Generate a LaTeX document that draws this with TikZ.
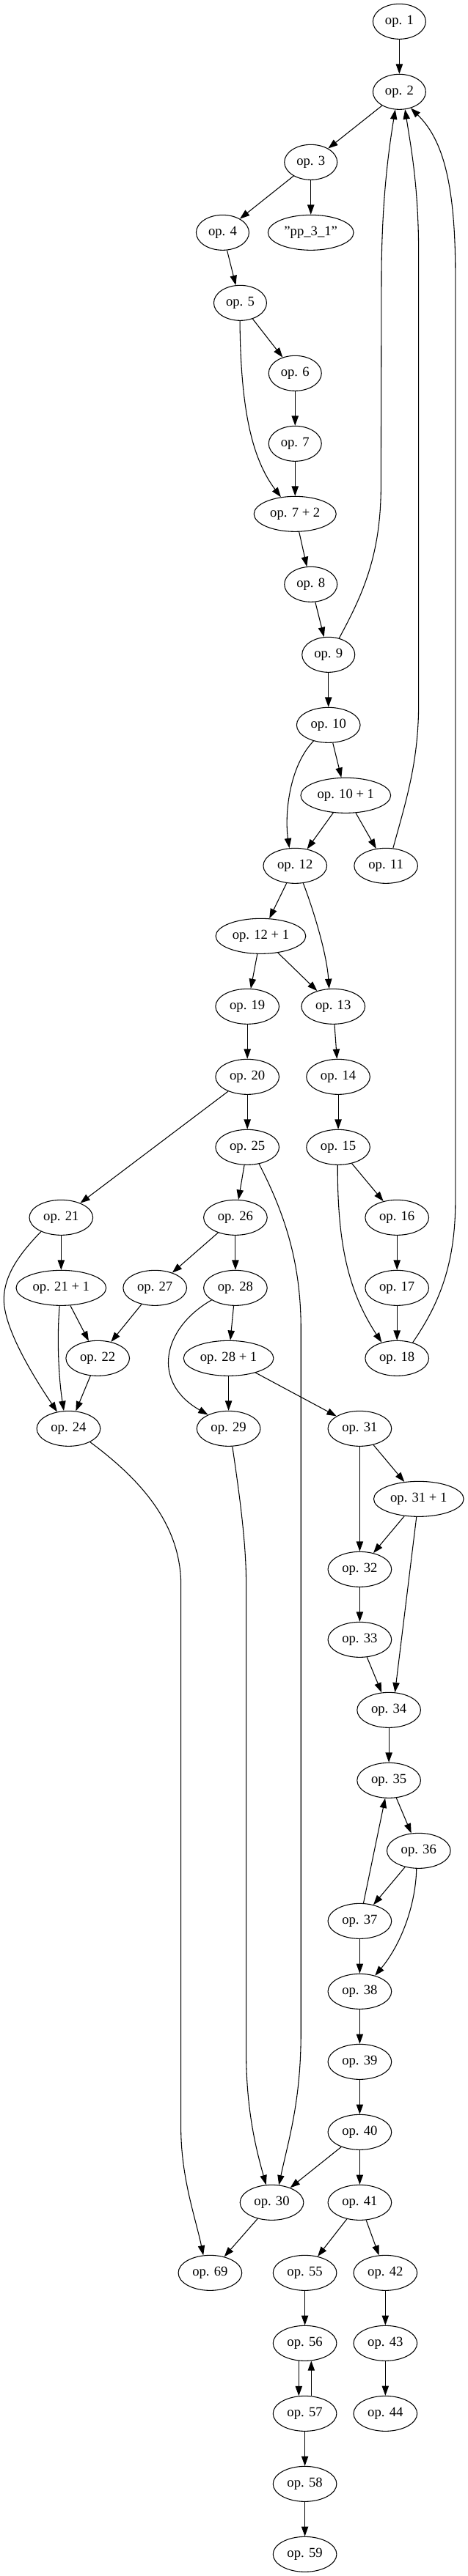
\documentclass[tikz,border=0pt]{standalone}
\usepackage{fontspec}
\setmainfont{Liberation Serif}
\usetikzlibrary{arrows.meta,shapes.geometric}
\begin{document}
\begin{tikzpicture}[x=1pt,y=1pt,
  op/.style={draw, ellipse, line width=0.8pt, inner sep=0pt, minimum height=36pt, minimum width=54pt, font=\fontsize{14pt}{16pt}\selectfont},
  opm/.style={op, minimum width=65pt},
  opw/.style={op, minimum width=92pt},
  opx/.style={op, minimum width=84pt},
  opp/.style={op, minimum width=87.5pt},
  edge/.style={draw, line width=0.8pt, -{Triangle[length=10pt,width=7pt]}}]
\useasboundingbox (0,0) rectangle (477.75,-2636.25);
% nodes
\node[op]  (op1)   at (408.3,-22)   {op. 1};
\node[op]  (op2)   at (408.3,-94)   {op. 2};
\node[op]  (op3)   at (317.8,-166)  {op. 3};
\node[op]  (op4)   at (227.6,-238)  {op. 4};
\node[opp] (pp)    at (317.8,-238)  {"pp\_3\_1"};
\node[op]  (op5)   at (245.6,-310)  {op. 5};
\node[op]  (op6)   at (301.7,-382)  {op. 6};
\node[op]  (op7)   at (301.7,-454)  {op. 7};
\node[opx] (op72)  at (301.7,-526)  {op. 7 + 2};
\node[op]  (op8)   at (317.8,-598)  {op. 8};
\node[op]  (op9)   at (335.8,-670)  {op. 9};
\node[opm] (op10)  at (335.8,-742)  {op. 10};
\node[opw] (op101) at (353.5,-814)  {op. 10 + 1};
\node[opm] (op12)  at (301.7,-886)  {op. 12};
\node[opm] (op11)  at (394.6,-886)  {op. 11};
\node[opw] (op121) at (266.6,-958)  {op. 12 + 1};
\node[opm] (op19)  at (252.9,-1030) {op. 19};
\node[opm] (op13)  at (340.7,-1030) {op. 13};
\node[opm] (op20)  at (252.9,-1102) {op. 20};
\node[opm] (op14)  at (345.8,-1102) {op. 14};
\node[opm] (op25)  at (252.9,-1174) {op. 25};
\node[opm] (op15)  at (345.8,-1174) {op. 15};
\node[opm] (op21)  at (62.5,-1246)  {op. 21};
\node[opm] (op26)  at (240.7,-1246) {op. 26};
\node[opm] (op16)  at (405.9,-1246) {op. 16};
\node[opw] (op211) at (62.5,-1318)  {op. 21 + 1};
\node[opm] (op27)  at (158.4,-1318) {op. 27};
\node[opm] (op28)  at (240.7,-1318) {op. 28};
\node[opm] (op17)  at (405.9,-1318) {op. 17};
\node[opm] (op22)  at (99.9,-1390)  {op. 22};
\node[opw] (op281) at (233.7,-1390) {op. 28 + 1};
\node[opm] (op18)  at (405.9,-1390) {op. 18};
\node[opm] (op24)  at (70.1,-1462)  {op. 24};
\node[opm] (op29)  at (233.7,-1462) {op. 29};
\node[opm] (op31)  at (367.8,-1462) {op. 31};
\node[opw] (op311) at (428.1,-1534) {op. 31 + 1};
\node[opm] (op32)  at (367.8,-1606) {op. 32};
\node[opm] (op33)  at (367.8,-1678) {op. 33};
\node[opm] (op34)  at (397.6,-1750) {op. 34};
\node[opm] (op35)  at (397.6,-1822) {op. 35};
\node[opm] (op36)  at (428.1,-1894) {op. 36};
\node[opm] (op37)  at (367.8,-1966) {op. 37};
\node[opm] (op38)  at (367.8,-2038) {op. 38};
\node[opm] (op39)  at (367.8,-2110) {op. 39};
\node[opm] (op40)  at (367.8,-2182) {op. 40};
\node[opm] (op30)  at (277.9,-2254) {op. 30};
\node[opm] (op41)  at (367.8,-2254) {op. 41};
\node[opm] (op69)  at (214.8,-2326) {op. 69};
\node[opm] (op55)  at (311.7,-2326) {op. 55};
\node[opm] (op42)  at (394.0,-2326) {op. 42};
\node[opm] (op56)  at (311.7,-2398) {op. 56};
\node[opm] (op43)  at (394.0,-2398) {op. 43};
\node[opm] (op57)  at (311.7,-2470) {op. 57};
\node[opm] (op44)  at (394.0,-2470) {op. 44};
\node[opm] (op58)  at (311.7,-2542) {op. 58};
\node[opm] (op59)  at (311.7,-2614) {op. 59};
% edges
\draw[edge] (op1) -- (op2);
\draw[edge] (op2) -- (op3);
\draw[edge] (op3) -- (op4);
\draw[edge] (op3) -- (pp);
\draw[edge] (op4) -- (op5);
\draw[edge] (op5) -- (op6);
\draw[edge] (op5.269) .. controls (246,-420) and (258,-470) .. (op72.130);
\draw[edge] (op6) -- (op7);
\draw[edge] (op7) -- (op72);
\draw[edge] (op72) -- (op8);
\draw[edge] (op8) -- (op9);
\draw[edge] (op9.57) .. controls (370,-610) and (389,-570) .. (389.5,-500) -- (390,-280) .. controls (390.5,-200) and (398,-150) .. (op2.257);
\draw[edge] (op9) -- (op10);
\draw[edge] (op10) -- (op101);
\draw[edge] (op10.227) .. controls (295,-785) and (291,-835) .. (op12.108);
\draw[edge] (op101) -- (op12);
\draw[edge] (op101) -- (op11);
\draw[edge] (op11.68) .. controls (415,-820) and (428,-780) .. (428,-720) -- (428,-260) .. controls (428,-190) and (420,-150) .. (op2.288);
\draw[edge] (op12) -- (op121);
\draw[edge] (op12.295) .. controls (320,-930) and (334,-975) .. (op13.103);
\draw[edge] (op121) -- (op19);
\draw[edge] (op121) -- (op13);
\draw[edge] (op13) -- (op14);
\draw[edge] (op19) -- (op20);
\draw[edge] (op20) -- (op21);
\draw[edge] (op20) -- (op25);
\draw[edge] (op14) -- (op15);
\draw[edge] (op15) -- (op16);
\draw[edge] (op15.268) .. controls (345,-1270) and (355,-1320) .. (op18.134);
\draw[edge] (op16) -- (op17);
\draw[edge] (op17) -- (op18);
\draw[edge] (op18.45) .. controls (445,-1340) and (465.6,-1300) .. (465.6,-1230) -- (465.6,-280) .. controls (465.6,-180) and (450,-140) .. (op2.305);
\draw[edge] (op25) -- (op26);
\draw[edge] (op25.305) .. controls (290,-1240) and (307.7,-1290) .. (307.7,-1360) -- (307.7,-2080) .. controls (307.7,-2150) and (295,-2190) .. (op30.68);
\draw[edge] (op21) -- (op211);
\draw[edge] (op21.215) .. controls (20,-1283) and (4,-1305) .. (4,-1330) .. controls (4,-1360) and (35,-1410) .. (op24.124);
\draw[edge] (op211) -- (op22);
\draw[edge] (op211.265) .. controls (58,-1370) and (60,-1410) .. (op24.105);
\draw[edge] (op26) -- (op27);
\draw[edge] (op26) -- (op28);
\draw[edge] (op27) -- (op22);
\draw[edge] (op22) -- (op24);
\draw[edge] (op28) -- (op281);
\draw[edge] (op28.207) .. controls (165,-1360) and (155,-1415) .. (op29.146);
\draw[edge] (op281) -- (op29);
\draw[edge] (op281) -- (op31);
\draw[edge] (op24.328) .. controls (145,-1515) and (184,-1560) .. (185,-1620) -- (185,-2180) .. controls (185.5,-2230) and (200,-2270) .. (op69.111);
\draw[edge] (op29.282) .. controls (245,-1530) and (251.7,-1580) .. (251.7,-1620) -- (251.7,-2100) .. controls (251.7,-2160) and (262,-2200) .. (op30.108);
\draw[edge] (op31) -- (op311);
\draw[edge] (op31) -- (op32);
\draw[edge] (op311) -- (op32);
\draw[edge] (op311.263) -- (op34.71);
\draw[edge] (op32) -- (op33);
\draw[edge] (op33) -- (op34);
\draw[edge] (op34) -- (op35);
\draw[edge] (op35) -- (op36);
\draw[edge] (op36) -- (op37);
\draw[edge] (op37) -- (op35);
\draw[edge] (op36.263) .. controls (425,-1950) and (410,-1990) .. (op38.46);
\draw[edge] (op37) -- (op38);
\draw[edge] (op38) -- (op39);
\draw[edge] (op39) -- (op40);
\draw[edge] (op40) -- (op30);
\draw[edge] (op40) -- (op41);
\draw[edge] (op30) -- (op69);
\draw[edge] (op41) -- (op55);
\draw[edge] (op41) -- (op42);
\draw[edge] (op55) -- (op56);
\draw[edge] (op42) -- (op43);
\draw[edge] (op56.251) -- (op57.109);
\draw[edge] (op57.70) -- (op56.290);
\draw[edge] (op43) -- (op44);
\draw[edge] (op57) -- (op58);
\draw[edge] (op58) -- (op59);
\end{tikzpicture}
\end{document}
